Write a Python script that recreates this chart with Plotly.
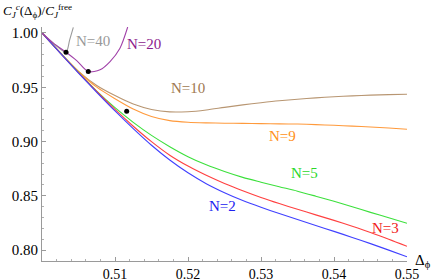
import plotly.graph_objects as go

# ---- data ----
x_grid = [0.5, 0.5025, 0.505, 0.5075, 0.51, 0.5125, 0.515, 0.5175, 0.52, 0.5225, 0.525,
          0.5275, 0.53, 0.5325, 0.535, 0.5375, 0.54, 0.5425, 0.545, 0.5475, 0.55]

y_n2 = [1.0, 0.9814, 0.9631, 0.9454, 0.9282, 0.9119, 0.8966, 0.8830, 0.8712, 0.8612, 0.8529,
        0.8457, 0.8395, 0.8337, 0.8282, 0.8227, 0.8173, 0.8117, 0.8060, 0.8000, 0.7939]
y_n3 = [1.0, 0.9815, 0.9635, 0.9461, 0.9296, 0.9141, 0.8999, 0.8874, 0.8774, 0.8689, 0.8614,
        0.8547, 0.8485, 0.8429, 0.8377, 0.8325, 0.8274, 0.8220, 0.8163, 0.8101, 0.8036]
y_n5 = [1.0, 0.9817, 0.9637, 0.9465, 0.9312, 0.9177, 0.9057, 0.8953, 0.8861, 0.8786, 0.8724,
        0.8670, 0.8626, 0.8584, 0.8543, 0.8497, 0.8450, 0.8400, 0.8348, 0.8298, 0.8248]
y_n9 = [1.0, 0.9818, 0.9645, 0.9501, 0.9395, 0.9300, 0.9231, 0.9193, 0.9178, 0.9172, 0.9169,
        0.9167, 0.9165, 0.9163, 0.9161, 0.9156, 0.9150, 0.9142, 0.9134, 0.9125, 0.9114]
y_n10 = [1.0, 0.9818, 0.9647, 0.9517, 0.9424, 0.9346, 0.9296, 0.9273, 0.9275, 0.9291, 0.9315,
         0.9338, 0.9358, 0.9376, 0.9390, 0.9402, 0.9413, 0.9421, 0.9428, 0.9432, 0.9435]

x_n20 = [0.5, 0.50155, 0.50329, 0.50475, 0.50634, 0.50795, 0.50932, 0.51068, 0.51174]
y_n20 = [1.0, 0.9906, 0.9823, 0.9746, 0.9645, 0.9661, 0.9737, 0.9860, 1.0055]

x_n40 = [0.5, 0.50155, 0.50329, 0.50379, 0.50429]
y_n40 = [1.0, 0.9906, 0.9823, 0.9937, 1.0052]

dots_x = [0.50329, 0.50634, 0.5116]
dots_y = [0.9823, 0.9645, 0.9278]

labels = ["N=40", "N=20", "N=10", "N=9", "N=5", "N=3", "N=2"]
label_x = [0.50699, 0.51397, 0.5200, 0.53288, 0.53589, 0.54699, 0.52466]
label_y = [0.9927, 0.9899, 0.9495, 0.9055, 0.8706, 0.8202, 0.8404]

x_ticks = [0.51, 0.52, 0.53, 0.54, 0.55]
x_tick_text = ["0.51", "0.52", "0.53", "0.54", "0.55"]
y_ticks = [0.80, 0.85, 0.90, 0.95, 1.00]
y_tick_text = ["0.80", "0.85", "0.90", "0.95", "1.00"]

# ---- styles ----
line_cols = {
    "N=40": "#9a9a9a", "N=20": "#a040a8", "N=10": "#b89672", "N=9": "#ff9a3c",
    "N=5": "#3ce03c", "N=3": "#ff4040", "N=2": "#4040ff",
}
text_cols = {
    "N=40": "#999999", "N=20": "#8c1a8c", "N=10": "#a07850", "N=9": "#ff9020",
    "N=5": "#2ad82a", "N=3": "#f01818", "N=2": "#2020f0",
}
FONT = "'Liberation Serif', 'Times New Roman', Times, serif"
FS = 15

fig = go.Figure()
series = [
    ("N=40", x_n40, y_n40), ("N=10", x_grid, y_n10), ("N=9", x_grid, y_n9),
    ("N=5", x_grid, y_n5), ("N=3", x_grid, y_n3), ("N=2", x_grid, y_n2),
    ("N=20", x_n20, y_n20),
]
for name, xs, ys in series:
    fig.add_trace(go.Scatter(x=xs, y=ys, mode="lines", name=name,
                             line=dict(color=line_cols[name], width=1.1, shape="spline", smoothing=0.8),
                             hoverinfo="skip", showlegend=False))

fig.add_trace(go.Scatter(x=dots_x, y=dots_y, mode="markers",
                         marker=dict(color="black", size=5), showlegend=False, hoverinfo="skip"))

for t, lx, ly in zip(labels, label_x, label_y):
    fig.add_annotation(x=lx, y=ly, text=t, showarrow=False,
                       font=dict(family=FONT, size=FS, color=text_cols[t]),
                       xanchor="center", yanchor="middle")

fig.add_annotation(xref="paper", yref="paper", x=-0.112, y=1.07, xanchor="left", yanchor="middle",
                   text="<i>C</i><sub><i>J</i></sub><sup><i>c</i></sup>(Δ<sub>ϕ</sub>)/<i>C</i><sub><i>J</i></sub><sup>free</sup>",
                   showarrow=False, font=dict(family=FONT, size=13, color="black"))
fig.add_annotation(xref="paper", yref="paper", x=1.045, y=0.0, xanchor="center", yanchor="middle",
                   text="Δ<sub>ϕ</sub>", showarrow=False, font=dict(family=FONT, size=FS, color="black"))

axis_common = dict(showgrid=False, zeroline=False, showline=True, linecolor="#9a9a9a", linewidth=1,
                   ticks="inside", ticklen=4, tickcolor="#9a9a9a", tickwidth=1, automargin=False)
fig.update_xaxes(range=[0.5, 0.55], tickvals=x_ticks, ticktext=x_tick_text,
                 tickfont=dict(family=FONT, size=14, color="black"),
                 minor=dict(ticks="inside", ticklen=2, tickcolor="#b0b0b0", dtick=0.002, tick0=0.5, showgrid=False),
                 **axis_common)
fig.update_yaxes(range=[0.79, 1.0055], tickvals=y_ticks, ticktext=y_tick_text,
                 tickfont=dict(family=FONT, size=FS, color="black"),
                 minor=dict(ticks="inside", ticklen=2, tickcolor="#b0b0b0", dtick=0.01, tick0=0.8, showgrid=False),
                 **axis_common)

fig.update_layout(width=436, height=280, margin=dict(l=42, r=29, t=27, b=19),
                  paper_bgcolor="white", plot_bgcolor="white",
                  font=dict(family=FONT, size=FS, color="black"))

fig.write_html("out.html", config={"displayModeBar": False, "staticPlot": True},
               post_script="document.body.style.margin='0';document.body.style.overflow='hidden';")
